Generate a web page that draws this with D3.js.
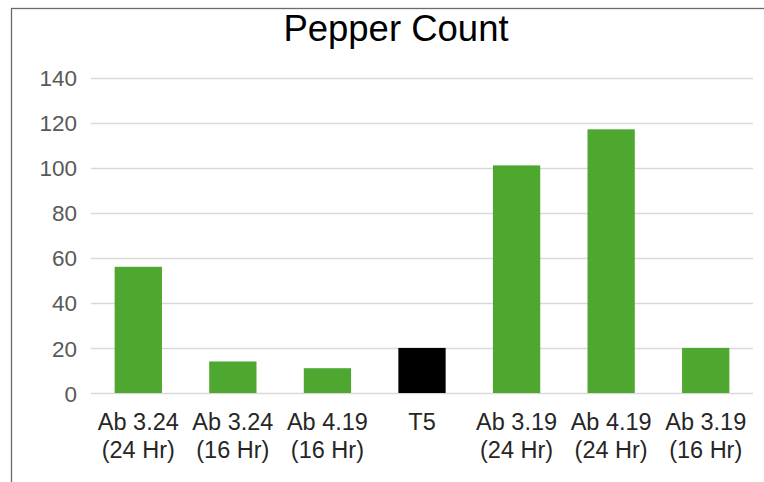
<!DOCTYPE html>
<html>
<head>
<meta charset="utf-8">
<script src="https://cdn.jsdelivr.net/npm/d3@7"></script>
<style>
  html, body { margin: 0; padding: 0; background: #fff; }
  svg { display: block; }
</style>
</head>
<body>
<svg id="chart" width="764" height="482"></svg>
<script>
const categories = [
  ["Ab 3.24", "(24 Hr)"],
  ["Ab 3.24", "(16 Hr)"],
  ["Ab 4.19", "(16 Hr)"],
  ["T5"],
  ["Ab 3.19", "(24 Hr)"],
  ["Ab 4.19", "(24 Hr)"],
  ["Ab 3.19", "(16 Hr)"]
];
const values = [56, 14, 11, 20, 101, 117, 20];
const highlight = [false, false, false, true, false, false, false];
const yTicks = [0, 20, 40, 60, 80, 100, 120, 140];
const title = "Pepper Count";

(function () {
const svg = d3.select("#chart");
const font = "'Liberation Sans', Arial, sans-serif";

// outer border (only top/left visible in the crop)
svg.append("rect")
  .attr("x", 11.5).attr("y", 8.5)
  .attr("width", 900).attr("height", 900)
  .attr("fill", "none").attr("stroke", "#6b6b6b").attr("stroke-width", 1.3);

const pLeft = 91, pRight = 753, pTop = 77.5, pBottom = 393;
const x = d3.scaleBand().domain(d3.range(categories.length)).range([pLeft, pRight]).paddingInner(0.5).paddingOuter(0.25);
const y = d3.scaleLinear().domain([0, 140]).range([pBottom, pTop]);

// gridlines
svg.append("g").selectAll("line").data(yTicks).join("line")
  .attr("x1", pLeft).attr("x2", pRight)
  .attr("y1", d => Math.round(y(d)) + 0.5).attr("y2", d => Math.round(y(d)) + 0.5)
  .attr("stroke", "#d9d9d9").attr("stroke-width", 1.3);

// y axis labels
const yAxis = d3.axisLeft(y).tickValues(yTicks).tickSize(0).tickPadding(0);
const gy = svg.append("g").attr("transform", `translate(77,0)`).call(yAxis);
gy.select(".domain").remove();
gy.selectAll("text")
  .attr("font-family", font).attr("font-size", 22.5).attr("fill", "#595959")
  .attr("dy", "0.36em");

// bars
svg.append("g").selectAll("rect").data(values).join("rect")
  .attr("x", (d, i) => x(i))
  .attr("width", x.bandwidth())
  .attr("y", d => y(d))
  .attr("height", d => y(0) - y(d))
  .attr("fill", (d, i) => highlight[i] ? "#000000" : "#4ea72e");

// x axis labels
const xAxis = d3.axisBottom(x).tickSize(0).tickFormat(() => "");
const gx = svg.append("g").attr("transform", `translate(0,${pBottom})`).call(xAxis);
gx.select(".domain").remove();
gx.selectAll(".tick").each(function(i) {
  const t = d3.select(this).append("text")
    .attr("font-family", font).attr("font-size", 23.5).attr("fill", "#262626")
    .attr("text-anchor", "middle");
  categories[i].forEach((line, k) => {
    t.append("tspan").attr("x", 0).attr("y", 37 + k * 28).text(line);
  });
});

// title
svg.append("text")
  .attr("x", 396).attr("y", 41)
  .attr("text-anchor", "middle")
  .attr("font-family", font).attr("font-size", 36.5).attr("fill", "#000")
  .text(title);
})();
</script>
</body>
</html>
